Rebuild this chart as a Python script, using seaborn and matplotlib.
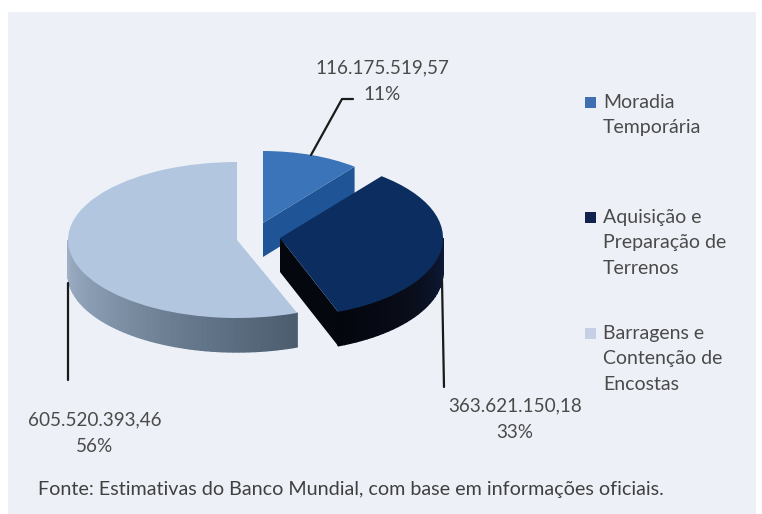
"""Exploded pseudo-3D pie of World Bank cost estimates."""

import matplotlib
matplotlib.use("Agg")
import matplotlib.pyplot as plt
import numpy as np
import seaborn as sns
from matplotlib.patches import Rectangle
from matplotlib.transforms import Affine2D

CATEGORIES = ["Moradia\nTemporária", "Aquisição e\nPreparação de\nTerrenos", "Barragens e\nContenção de\nEncostas"]
VALUES = [116175519.57, 363621150.18, 605520393.46]
PERCENTS = [11, 33, 56]
FOOTER = "Fonte: Estimativas do Banco Mundial, com base em informações oficiais."

TOP_COLORS = ["#3b74b8", "#0b2d60", "#b2c6df"]
LEGEND_COLORS = ["#3f6fb0", "#10224e", "#c6cfe5"]
CENTERS = [(263, 223), (280, 238), (237, 240)]
RADII = [(147, 72), (163, 79), (169, 78)]
WALL = 34


def brl(value):
    return f"{value:,.2f}".replace(",", "#").replace(".", ",").replace("#", ".")


def rim(i, deg):
    cx, cy = CENTERS[i]
    rx, ry = RADII[i]
    t = np.radians(deg)
    return cx + rx * np.cos(t), cy - ry * np.sin(t)


def outer_wall(i, start, stop, shades, zorder):
    edges = np.linspace(start, stop, len(shades) + 1)
    for a, b, shade in zip(edges[:-1], edges[1:], shades):
        xs, ys = rim(i, np.linspace(a, b, 6))
        ax.fill(np.r_[xs, xs[::-1]], np.r_[ys, ys[::-1] + WALL], color=shade, lw=1, zorder=zorder)


def cut_wall(i, deg, color, zorder):
    cx, cy = CENTERS[i]
    x, y = rim(i, deg)
    ax.fill([cx, x, x, cx], [cy, y, y + WALL, cy + WALL], color=color, lw=0, zorder=zorder)


sns.set_theme(style="white")
plt.rcParams["font.family"] = ["Lato", "DejaVu Sans"]

fig, ax = plt.subplots(figsize=(7.62, 5.14), dpi=100)
fig.subplots_adjust(0, 0, 1, 1)

wedges, _ = ax.pie(VALUES, startangle=90, counterclock=False, colors=TOP_COLORS, wedgeprops={"linewidth": 0})
ax.set_aspect("auto")
ax.set_xlim(0, 762)
ax.set_ylim(514, 0)
ax.add_patch(Rectangle((8, 12), 748, 502, color="#edf1f7", lw=0, zorder=0))

for i, wedge in enumerate(wedges):
    rx, ry = RADII[i]
    wedge.set_transform(Affine2D().scale(rx, -ry).translate(*CENTERS[i]) + ax.transData)
    wedge.set_zorder(5 if i == 1 else 3)

bounds = 90 - 360 * np.cumsum(VALUES) / np.sum(VALUES)

cut_wall(0, bounds[0], "#1f5596", 1)
cut_wall(1, bounds[1], "#05070f", 4)
outer_wall(1, bounds[1], 0, sns.blend_palette(["#04060d", "#0a0e1c", "#0c1a38"], 30), 4)
outer_wall(2, bounds[1] + 360, 180, sns.blend_palette(["#4d5d70", "#66788c", "#8497ac", "#9db0c6"], 60), 2)

ax.plot([311, 342, 353], [155, 99, 99], color="#1a1a1a", lw=1.6, zorder=6)
ax.plot([68, 68], [283, 380], color="#1a1a1a", lw=1.6, zorder=6)
ax.plot([442, 444], [280, 387], color="#1a1a1a", lw=1.6, zorder=6)

label_pos = [(382, 68, 94), (515, 406, 432), (95, 420, 446)]
for value, pct, (x, y1, y2) in zip(VALUES, PERCENTS, label_pos):
    ax.text(x, y1, brl(value), ha="center", va="center", fontsize=13.6, color="#4a4a4a", zorder=7)
    ax.text(x, y2, f"{pct}%", ha="center", va="center", fontsize=13.6, color="#4a4a4a", zorder=7)

legend_y = [102, 217, 333]
for label, color, y in zip(CATEGORIES, LEGEND_COLORS, legend_y):
    ax.add_patch(Rectangle((585, y - 5), 11, 11, color=color, lw=0, zorder=7))
    for k, line in enumerate(label.split("\n")):
        ax.text(603, y + k * 25.5, line, ha="left", va="center", fontsize=14, color="#4a4a4a", zorder=7)

ax.text(38, 489, FOOTER, ha="left", va="center", fontsize=14.2, color="#404040", zorder=7)

fig.savefig("out.png", dpi=100)
